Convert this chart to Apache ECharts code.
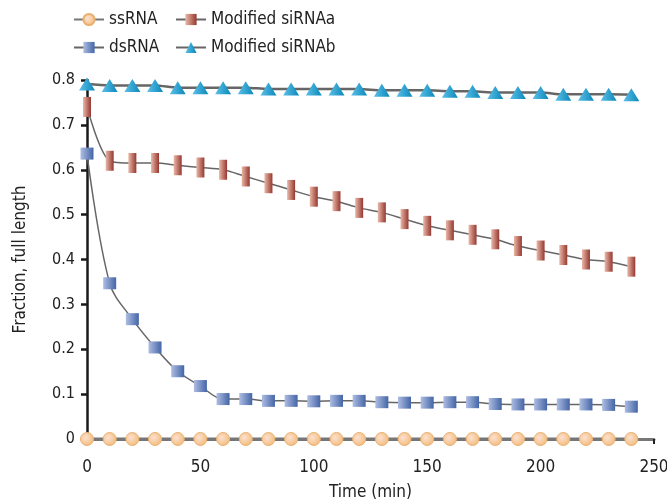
<!DOCTYPE html>
<html><head><meta charset="utf-8">
<script src="https://cdn.jsdelivr.net/npm/echarts@6/dist/echarts.min.js"></script>
<style>html,body{margin:0;padding:0;background:#fff}#c{width:667px;height:502px}</style>
</head><body><div id="c"></div>
<script>
var times = [0,10,20,30,40,50,60,70,80,90,100,110,120,130,140,150,160,170,180,190,200,210,220,230,240];
var ssRNA = [0,0,0,0,0,0,0,0,0,0,0,0,0,0,0,0,0,0,0,0,0,0,0,0,0];
var dsRNA = [0.636,0.347,0.267,0.204,0.151,0.118,0.089,0.089,0.085,0.085,0.084,0.085,0.085,0.082,0.081,0.081,0.082,0.082,0.078,0.077,0.077,0.077,0.077,0.076,0.072];
var siRNAa = [0.74,0.62,0.615,0.615,0.61,0.605,0.60,0.585,0.57,0.555,0.54,0.53,0.515,0.505,0.49,0.475,0.465,0.455,0.445,0.43,0.42,0.41,0.40,0.395,0.384];
var siRNAb = [0.791,0.788,0.788,0.788,0.783,0.783,0.783,0.783,0.780,0.780,0.780,0.780,0.780,0.777,0.777,0.777,0.775,0.775,0.772,0.772,0.772,0.768,0.768,0.768,0.767];
var yTicks = [0,0.1,0.2,0.3,0.4,0.5,0.6,0.7,0.8];
var xTicks = [0,50,100,150,200,250];

function pairs(v){ return times.map(function(t,i){return [t,v[i]];}); }
var FONT = "'DejaVu Sans Condensed','Liberation Sans Narrow',sans-serif";
var G = echarts.graphic;
var chart = echarts.init(document.getElementById('c'));
chart.setOption({
  animation:false,
  textStyle:{fontFamily:FONT},
  legend:[
    {data:['ssRNA','dsRNA'],orient:'vertical',left:68,top:6,itemWidth:30,itemHeight:14,itemGap:11,
     textStyle:{fontFamily:FONT,fontSize:17,color:'#222'}},
    {data:['Modified siRNAa','Modified siRNAb'],orient:'vertical',left:170,top:6,itemWidth:30,itemHeight:14,itemGap:11,
     textStyle:{fontFamily:FONT,fontSize:17,color:'#222'}}
  ],
  grid:{left:87,right:13,top:80,bottom:63,outerBoundsMode:'none',containLabel:false},
  xAxis:{type:'value',min:0,max:250,interval:50,
    name:'Time (min)',nameLocation:'middle',nameGap:45,
    nameTextStyle:{fontFamily:FONT,fontSize:17,color:'#222'},
    axisLine:{lineStyle:{color:'#777',width:3}},
    axisTick:{show:true,length:5,lineStyle:{color:'#222',width:2}},
    axisLabel:{fontFamily:FONT,fontSize:17,color:'#222',margin:20,
      formatter:function(v){return xTicks.indexOf(v)>=0?String(v):'';}},
    splitLine:{show:false}},
  yAxis:{type:'value',min:0,max:0.8,interval:0.1,
    name:'Fraction, full length',nameLocation:'middle',nameGap:58,
    nameTextStyle:{fontFamily:FONT,fontSize:17,color:'#222'},
    axisLine:{show:true,lineStyle:{color:'#1a1a1a',width:2.5}},
    axisTick:{show:true,length:6,lineStyle:{color:'#1a1a1a',width:2.5}},
    axisLabel:{fontFamily:FONT,fontSize:16,color:'#222',margin:12,
      formatter:function(v){var r=Math.round(v*10)/10; return yTicks.indexOf(r)>=0?(r===0?'0':r.toFixed(1)):'';}},
    splitLine:{show:false}},
  series:[
    {name:'ssRNA',type:'line',data:pairs(ssRNA),symbol:'circle',symbolSize:13,clip:false,z:5,
      lineStyle:{color:'#777',width:3},
      itemStyle:{color:new G.RadialGradient(0.4,0.4,0.6,[{offset:0,color:'#fde0d0'},{offset:1,color:'#f2bd7e'}]),borderColor:'#eab070',borderWidth:1}},
    {name:'dsRNA',type:'line',data:pairs(dsRNA),symbol:'rect',symbolSize:[13,12],clip:false,smooth:0.35,z:4,
      lineStyle:{color:'#666',width:1.5},
      itemStyle:{color:new G.LinearGradient(0,0,1,0,[{offset:0,color:'#aebde3'},{offset:1,color:'#4465a6'}])}},
    {name:'Modified siRNAa',type:'line',data:pairs(siRNAa),symbol:'rect',symbolSize:[8,20],clip:false,smooth:0.3,z:4,
      lineStyle:{color:'#666',width:1.5},
      itemStyle:{color:new G.LinearGradient(0,0,1,0,[{offset:0,color:'#eab8a8'},{offset:1,color:'#963830'}])}},
    {name:'Modified siRNAb',type:'line',data:pairs(siRNAb),symbol:'triangle',symbolSize:[16,13],clip:false,smooth:0.3,z:4,
      lineStyle:{color:'#666',width:2.5},
      itemStyle:{color:new G.LinearGradient(0,0,1,0,[{offset:0,color:'#5cc0e8'},{offset:1,color:'#0a88ba'}])}}
  ]
});
</script></body></html>
